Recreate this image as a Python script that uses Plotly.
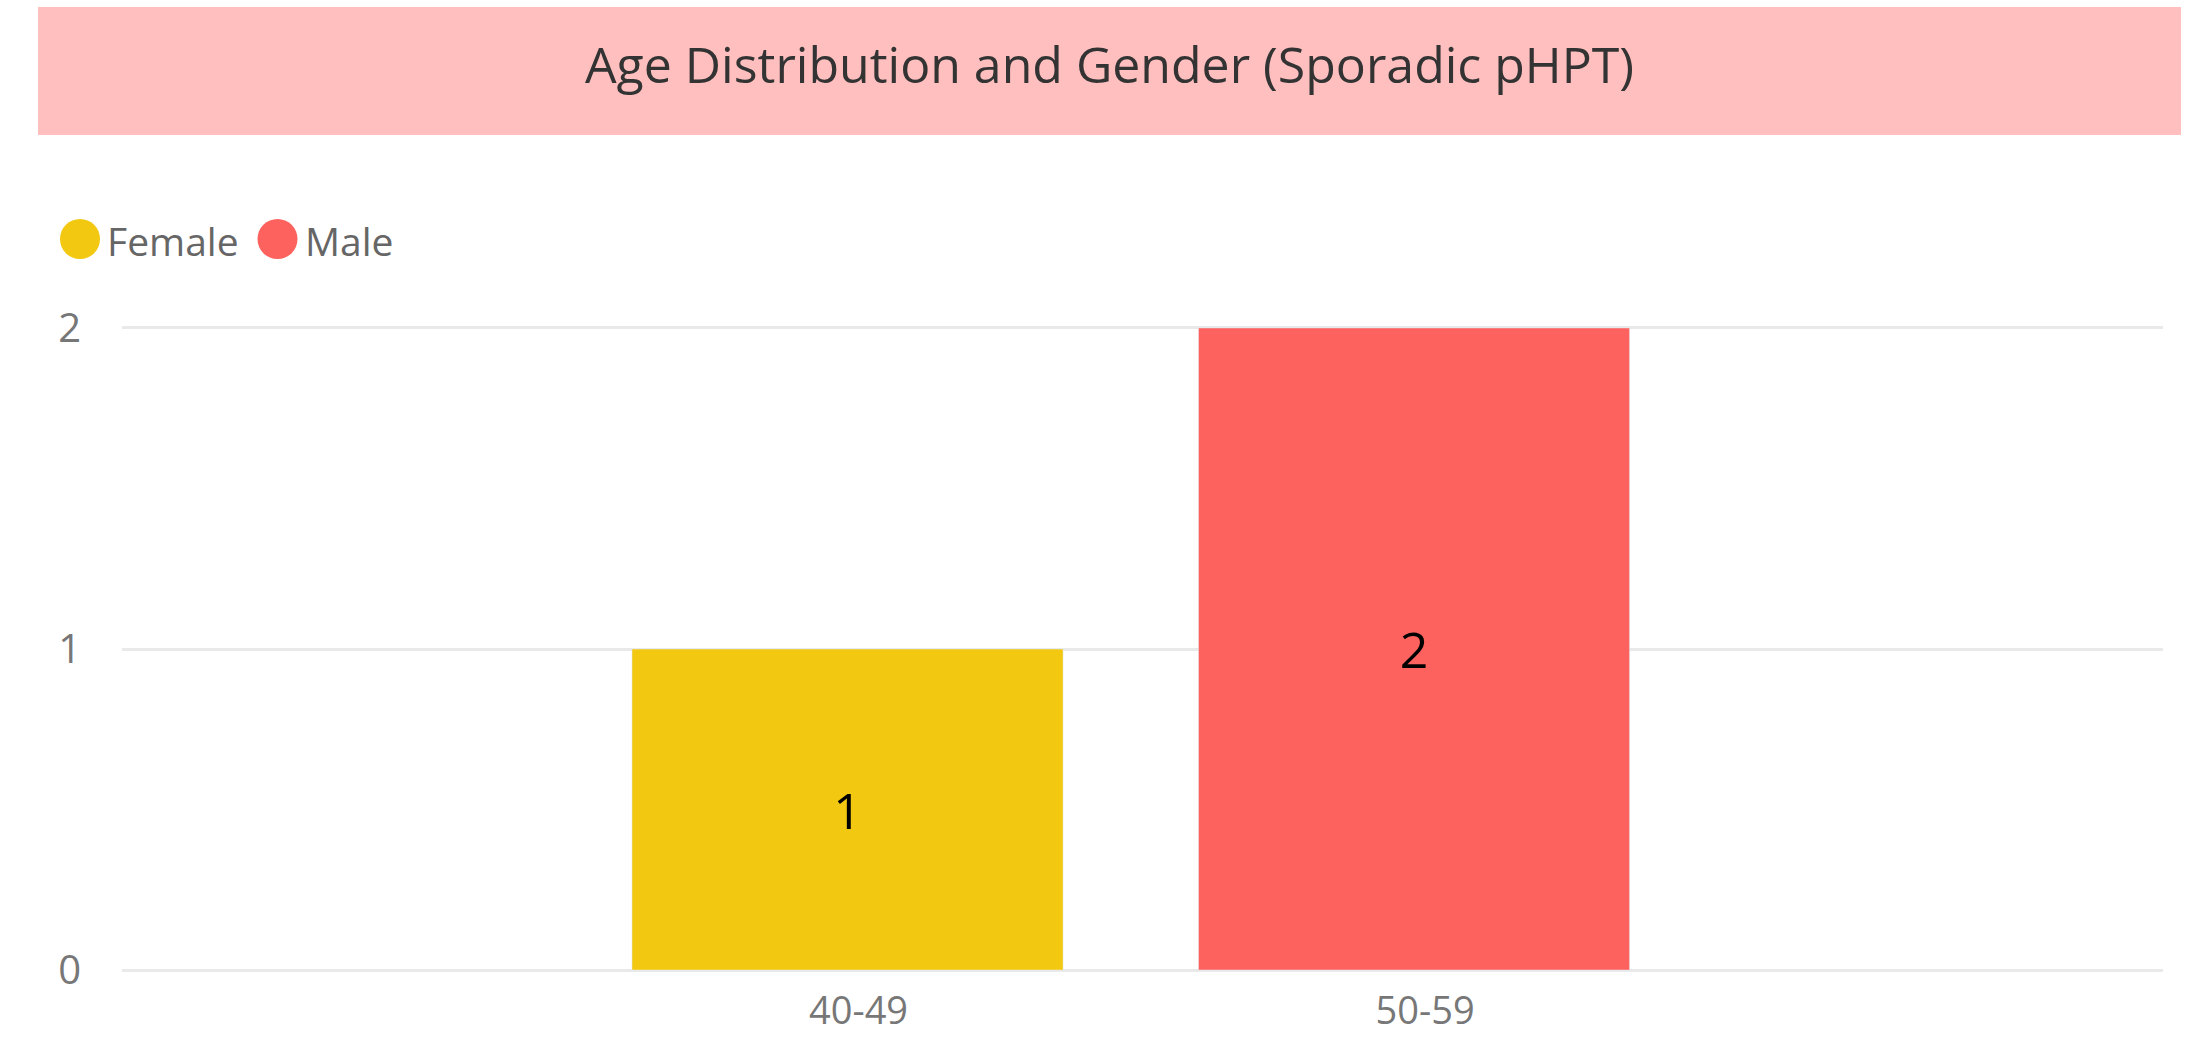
import plotly.graph_objects as go

# ---- data ----
categories = ["40-49", "50-59"]
female = [1, None]
male = [None, 2]
series_names = ["Female", "Male"]
title_text = "Age Distribution and Gender (Sporadic pHPT)"

FONT = "Open Sans, Noto Sans, sans-serif"
YELLOW = "#F2C811"
RED = "#FD625E"

W, H = 2203, 1038
L, R, T, B = 122, 40, 326, 66
pw = W - L - R
ph = H - T - B

def px_x(x):
    return (x - L) / pw

def px_y(y):
    return (H - B - y) / ph

fig = go.Figure()
for name, vals, col in [(series_names[0], female, YELLOW), (series_names[1], male, RED)]:
    fig.add_trace(go.Bar(x=categories, y=vals, name=name, marker_color=col,
                         width=0.761, texttemplate="%{y}", textposition="inside",
                         insidetextanchor="middle", textangle=0,
                         textfont=dict(color="black", size=50, family=FONT), showlegend=False))

# title band
fig.add_shape(type="rect", xref="paper", yref="paper",
              x0=px_x(38), x1=px_x(2181), y0=px_y(135), y1=px_y(7),
              fillcolor="#FFBFBF", line=dict(width=0), layer="below")
fig.add_annotation(xref="paper", yref="paper", x=px_x(1109.5), y=px_y(64),
                   text=title_text, showarrow=False, xanchor="center", yanchor="middle",
                   font=dict(family=FONT, size=50, color="#333333"))

# legend (manual, circular markers)
legend_items = [(series_names[0], YELLOW, 80, 105), (series_names[1], RED, 277.5, 303)]
for name, col, cx, tx in legend_items:
    fig.add_shape(type="circle", xref="paper", yref="paper",
                  xsizemode="pixel", ysizemode="pixel",
                  xanchor=px_x(cx), yanchor=px_y(239),
                  x0=-20, x1=20, y0=-20, y1=20,
                  fillcolor=col, line=dict(width=0))
    fig.add_annotation(xref="paper", yref="paper", x=px_x(tx), y=px_y(240),
                       text=name, showarrow=False, xanchor="left", yanchor="middle",
                       font=dict(family=FONT, size=39, color="#666666"))

fig.update_layout(
    width=W, height=H,
    margin=dict(l=L, r=R, t=T, b=B, pad=0, autoexpand=False),
    paper_bgcolor="white", plot_bgcolor="white",
    barmode="overlay",
    showlegend=False,
    font=dict(family=FONT),
    xaxis=dict(type="category", range=[-1.2807, 2.3221], showgrid=False, zeroline=False,
               showline=False, ticks="", tickfont=dict(size=38, color="#777777"),
               ticklabelshift=11, ticklabelstandoff=13, automargin=False),
    yaxis=dict(range=[-0.006, 2.006], tickvals=[0, 1, 2], showgrid=True, gridcolor="#E9E9E9",
               gridwidth=3, zeroline=False, showline=False, ticks="",
               tickfont=dict(size=40, color="#777777"), ticklabelstandoff=40, automargin=False),
)

fig.write_html("out.html", config={"displayModeBar": False},
               post_script="document.body.style.margin='0';document.body.style.overflow='hidden';")
